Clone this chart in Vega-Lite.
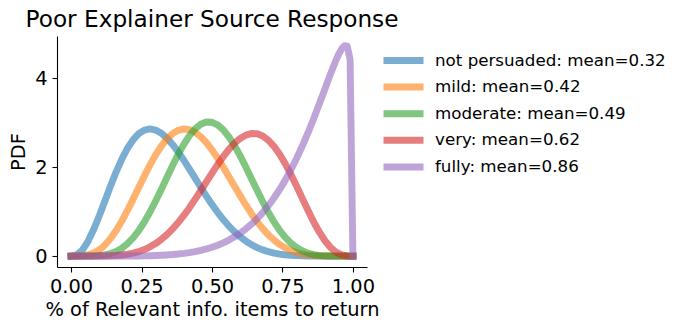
{
"$schema": "https://vega.github.io/schema/vega-lite/v6.json",
"width": 310, "height": 231,
"autosize": {"type": "none"},
"padding": {"left": 57, "top": 36, "right": 307, "bottom": 63},
"background": "white",
"config": {"view": {"stroke": null}, "font": "DejaVu Sans"},
"title": {"text": "Poor Explainer Source Response", "fontSize": 23.2, "fontWeight": "normal", "color": "black", "font": "DejaVu Sans", "anchor": "middle", "offset": 4},
"data": {"values": [
{"s":"not persuaded: mean=0.32","x":0,"y":0},{"s":"not persuaded: mean=0.32","x":0.02,"y":0.027},{"s":"not persuaded: mean=0.32","x":0.04,"y":0.137},{"s":"not persuaded: mean=0.32","x":0.06,"y":0.332},{"s":"not persuaded: mean=0.32","x":0.08,"y":0.596},{"s":"not persuaded: mean=0.32","x":0.1,"y":0.907},{"s":"not persuaded: mean=0.32","x":0.12,"y":1.241},{"s":"not persuaded: mean=0.32","x":0.14,"y":1.577},{"s":"not persuaded: mean=0.32","x":0.16,"y":1.896},{"s":"not persuaded: mean=0.32","x":0.18,"y":2.182},{"s":"not persuaded: mean=0.32","x":0.2,"y":2.425},{"s":"not persuaded: mean=0.32","x":0.22,"y":2.616},{"s":"not persuaded: mean=0.32","x":0.24,"y":2.753},{"s":"not persuaded: mean=0.32","x":0.26,"y":2.834},{"s":"not persuaded: mean=0.32","x":0.28,"y":2.86},{"s":"not persuaded: mean=0.32","x":0.3,"y":2.835},{"s":"not persuaded: mean=0.32","x":0.32,"y":2.765},{"s":"not persuaded: mean=0.32","x":0.34,"y":2.654},{"s":"not persuaded: mean=0.32","x":0.36,"y":2.511},{"s":"not persuaded: mean=0.32","x":0.38,"y":2.343},{"s":"not persuaded: mean=0.32","x":0.4,"y":2.156},{"s":"not persuaded: mean=0.32","x":0.42,"y":1.957},{"s":"not persuaded: mean=0.32","x":0.44,"y":1.753},{"s":"not persuaded: mean=0.32","x":0.46,"y":1.549},{"s":"not persuaded: mean=0.32","x":0.48,"y":1.35},{"s":"not persuaded: mean=0.32","x":0.5,"y":1.161},{"s":"not persuaded: mean=0.32","x":0.52,"y":0.984},{"s":"not persuaded: mean=0.32","x":0.54,"y":0.821},{"s":"not persuaded: mean=0.32","x":0.56,"y":0.675},{"s":"not persuaded: mean=0.32","x":0.58,"y":0.545},{"s":"not persuaded: mean=0.32","x":0.6,"y":0.433},{"s":"not persuaded: mean=0.32","x":0.62,"y":0.337},{"s":"not persuaded: mean=0.32","x":0.64,"y":0.257},{"s":"not persuaded: mean=0.32","x":0.66,"y":0.192},{"s":"not persuaded: mean=0.32","x":0.68,"y":0.14},{"s":"not persuaded: mean=0.32","x":0.7,"y":0.099},{"s":"not persuaded: mean=0.32","x":0.72,"y":0.068},{"s":"not persuaded: mean=0.32","x":0.74,"y":0.045},{"s":"not persuaded: mean=0.32","x":0.76,"y":0.029},{"s":"not persuaded: mean=0.32","x":0.78,"y":0.017},{"s":"not persuaded: mean=0.32","x":0.8,"y":0.01},{"s":"not persuaded: mean=0.32","x":0.82,"y":0.005},{"s":"not persuaded: mean=0.32","x":0.84,"y":0.003},{"s":"not persuaded: mean=0.32","x":0.86,"y":0.001},{"s":"not persuaded: mean=0.32","x":0.88,"y":0.0005},{"s":"not persuaded: mean=0.32","x":0.9,"y":0.0002},{"s":"not persuaded: mean=0.32","x":0.92,"y":0},{"s":"not persuaded: mean=0.32","x":0.94,"y":0},{"s":"not persuaded: mean=0.32","x":0.96,"y":0},{"s":"not persuaded: mean=0.32","x":0.98,"y":0},{"s":"not persuaded: mean=0.32","x":1,"y":0},
{"s":"mild: mean=0.42","x":0,"y":0},{"s":"mild: mean=0.42","x":0.02,"y":0.0005},{"s":"mild: mean=0.42","x":0.04,"y":0.006},{"s":"mild: mean=0.42","x":0.06,"y":0.025},{"s":"mild: mean=0.42","x":0.08,"y":0.068},{"s":"mild: mean=0.42","x":0.1,"y":0.141},{"s":"mild: mean=0.42","x":0.12,"y":0.249},{"s":"mild: mean=0.42","x":0.14,"y":0.395},{"s":"mild: mean=0.42","x":0.16,"y":0.576},{"s":"mild: mean=0.42","x":0.18,"y":0.789},{"s":"mild: mean=0.42","x":0.2,"y":1.027},{"s":"mild: mean=0.42","x":0.22,"y":1.282},{"s":"mild: mean=0.42","x":0.24,"y":1.544},{"s":"mild: mean=0.42","x":0.26,"y":1.804},{"s":"mild: mean=0.42","x":0.28,"y":2.051},{"s":"mild: mean=0.42","x":0.3,"y":2.277},{"s":"mild: mean=0.42","x":0.32,"y":2.474},{"s":"mild: mean=0.42","x":0.34,"y":2.634},{"s":"mild: mean=0.42","x":0.36,"y":2.754},{"s":"mild: mean=0.42","x":0.38,"y":2.829},{"s":"mild: mean=0.42","x":0.4,"y":2.859},{"s":"mild: mean=0.42","x":0.42,"y":2.844},{"s":"mild: mean=0.42","x":0.44,"y":2.786},{"s":"mild: mean=0.42","x":0.46,"y":2.687},{"s":"mild: mean=0.42","x":0.48,"y":2.554},{"s":"mild: mean=0.42","x":0.5,"y":2.39},{"s":"mild: mean=0.42","x":0.52,"y":2.204},{"s":"mild: mean=0.42","x":0.54,"y":2.001},{"s":"mild: mean=0.42","x":0.56,"y":1.787},{"s":"mild: mean=0.42","x":0.58,"y":1.57},{"s":"mild: mean=0.42","x":0.6,"y":1.356},{"s":"mild: mean=0.42","x":0.62,"y":1.15},{"s":"mild: mean=0.42","x":0.64,"y":0.955},{"s":"mild: mean=0.42","x":0.66,"y":0.777},{"s":"mild: mean=0.42","x":0.68,"y":0.618},{"s":"mild: mean=0.42","x":0.7,"y":0.479},{"s":"mild: mean=0.42","x":0.72,"y":0.361},{"s":"mild: mean=0.42","x":0.74,"y":0.263},{"s":"mild: mean=0.42","x":0.76,"y":0.185},{"s":"mild: mean=0.42","x":0.78,"y":0.125},{"s":"mild: mean=0.42","x":0.8,"y":0.08},{"s":"mild: mean=0.42","x":0.82,"y":0.048},{"s":"mild: mean=0.42","x":0.84,"y":0.027},{"s":"mild: mean=0.42","x":0.86,"y":0.014},{"s":"mild: mean=0.42","x":0.88,"y":0.006},{"s":"mild: mean=0.42","x":0.9,"y":0.002},{"s":"mild: mean=0.42","x":0.92,"y":0.001},{"s":"mild: mean=0.42","x":0.94,"y":0.0002},{"s":"mild: mean=0.42","x":0.96,"y":0},{"s":"mild: mean=0.42","x":0.98,"y":0},{"s":"mild: mean=0.42","x":1,"y":0},
{"s":"moderate: mean=0.49","x":0,"y":0},{"s":"moderate: mean=0.49","x":0.02,"y":0},{"s":"moderate: mean=0.49","x":0.04,"y":0.0001},{"s":"moderate: mean=0.49","x":0.06,"y":0.001},{"s":"moderate: mean=0.49","x":0.08,"y":0.004},{"s":"moderate: mean=0.49","x":0.1,"y":0.011},{"s":"moderate: mean=0.49","x":0.12,"y":0.028},{"s":"moderate: mean=0.49","x":0.14,"y":0.058},{"s":"moderate: mean=0.49","x":0.16,"y":0.106},{"s":"moderate: mean=0.49","x":0.18,"y":0.178},{"s":"moderate: mean=0.49","x":0.2,"y":0.279},{"s":"moderate: mean=0.49","x":0.22,"y":0.41},{"s":"moderate: mean=0.49","x":0.24,"y":0.574},{"s":"moderate: mean=0.49","x":0.26,"y":0.769},{"s":"moderate: mean=0.49","x":0.28,"y":0.992},{"s":"moderate: mean=0.49","x":0.3,"y":1.239},{"s":"moderate: mean=0.49","x":0.32,"y":1.5},{"s":"moderate: mean=0.49","x":0.34,"y":1.769},{"s":"moderate: mean=0.49","x":0.36,"y":2.035},{"s":"moderate: mean=0.49","x":0.38,"y":2.287},{"s":"moderate: mean=0.49","x":0.4,"y":2.514},{"s":"moderate: mean=0.49","x":0.42,"y":2.709},{"s":"moderate: mean=0.49","x":0.44,"y":2.861},{"s":"moderate: mean=0.49","x":0.46,"y":2.965},{"s":"moderate: mean=0.49","x":0.48,"y":3.015},{"s":"moderate: mean=0.49","x":0.5,"y":3.01},{"s":"moderate: mean=0.49","x":0.52,"y":2.951},{"s":"moderate: mean=0.49","x":0.54,"y":2.839},{"s":"moderate: mean=0.49","x":0.56,"y":2.681},{"s":"moderate: mean=0.49","x":0.58,"y":2.483},{"s":"moderate: mean=0.49","x":0.6,"y":2.254},{"s":"moderate: mean=0.49","x":0.62,"y":2.004},{"s":"moderate: mean=0.49","x":0.64,"y":1.742},{"s":"moderate: mean=0.49","x":0.66,"y":1.479},{"s":"moderate: mean=0.49","x":0.68,"y":1.224},{"s":"moderate: mean=0.49","x":0.7,"y":0.985},{"s":"moderate: mean=0.49","x":0.72,"y":0.769},{"s":"moderate: mean=0.49","x":0.74,"y":0.58},{"s":"moderate: mean=0.49","x":0.76,"y":0.421},{"s":"moderate: mean=0.49","x":0.78,"y":0.292},{"s":"moderate: mean=0.49","x":0.8,"y":0.192},{"s":"moderate: mean=0.49","x":0.82,"y":0.119},{"s":"moderate: mean=0.49","x":0.84,"y":0.068},{"s":"moderate: mean=0.49","x":0.86,"y":0.035},{"s":"moderate: mean=0.49","x":0.88,"y":0.016},{"s":"moderate: mean=0.49","x":0.9,"y":0.006},{"s":"moderate: mean=0.49","x":0.92,"y":0.002},{"s":"moderate: mean=0.49","x":0.94,"y":0.0004},{"s":"moderate: mean=0.49","x":0.96,"y":0},{"s":"moderate: mean=0.49","x":0.98,"y":0},{"s":"moderate: mean=0.49","x":1,"y":0},
{"s":"very: mean=0.62","x":0,"y":0},{"s":"very: mean=0.62","x":0.02,"y":0},{"s":"very: mean=0.62","x":0.04,"y":0},{"s":"very: mean=0.62","x":0.06,"y":0.0001},{"s":"very: mean=0.62","x":0.08,"y":0.0003},{"s":"very: mean=0.62","x":0.1,"y":0.001},{"s":"very: mean=0.62","x":0.12,"y":0.003},{"s":"very: mean=0.62","x":0.14,"y":0.007},{"s":"very: mean=0.62","x":0.16,"y":0.013},{"s":"very: mean=0.62","x":0.18,"y":0.025},{"s":"very: mean=0.62","x":0.2,"y":0.042},{"s":"very: mean=0.62","x":0.22,"y":0.067},{"s":"very: mean=0.62","x":0.24,"y":0.101},{"s":"very: mean=0.62","x":0.26,"y":0.148},{"s":"very: mean=0.62","x":0.28,"y":0.208},{"s":"very: mean=0.62","x":0.3,"y":0.281},{"s":"very: mean=0.62","x":0.32,"y":0.375},{"s":"very: mean=0.62","x":0.34,"y":0.484},{"s":"very: mean=0.62","x":0.36,"y":0.611},{"s":"very: mean=0.62","x":0.38,"y":0.755},{"s":"very: mean=0.62","x":0.4,"y":0.915},{"s":"very: mean=0.62","x":0.42,"y":1.089},{"s":"very: mean=0.62","x":0.44,"y":1.276},{"s":"very: mean=0.62","x":0.46,"y":1.47},{"s":"very: mean=0.62","x":0.48,"y":1.668},{"s":"very: mean=0.62","x":0.5,"y":1.866},{"s":"very: mean=0.62","x":0.52,"y":2.058},{"s":"very: mean=0.62","x":0.54,"y":2.237},{"s":"very: mean=0.62","x":0.56,"y":2.399},{"s":"very: mean=0.62","x":0.58,"y":2.538},{"s":"very: mean=0.62","x":0.6,"y":2.647},{"s":"very: mean=0.62","x":0.62,"y":2.721},{"s":"very: mean=0.62","x":0.64,"y":2.757},{"s":"very: mean=0.62","x":0.66,"y":2.751},{"s":"very: mean=0.62","x":0.68,"y":2.701},{"s":"very: mean=0.62","x":0.7,"y":2.606},{"s":"very: mean=0.62","x":0.72,"y":2.468},{"s":"very: mean=0.62","x":0.74,"y":2.29},{"s":"very: mean=0.62","x":0.76,"y":2.077},{"s":"very: mean=0.62","x":0.78,"y":1.836},{"s":"very: mean=0.62","x":0.8,"y":1.574},{"s":"very: mean=0.62","x":0.82,"y":1.304},{"s":"very: mean=0.62","x":0.84,"y":1.035},{"s":"very: mean=0.62","x":0.86,"y":0.779},{"s":"very: mean=0.62","x":0.88,"y":0.548},{"s":"very: mean=0.62","x":0.9,"y":0.352},{"s":"very: mean=0.62","x":0.92,"y":0.198},{"s":"very: mean=0.62","x":0.94,"y":0.091},{"s":"very: mean=0.62","x":0.96,"y":0.029},{"s":"very: mean=0.62","x":0.98,"y":0.004},{"s":"very: mean=0.62","x":1,"y":0},
{"s":"fully: mean=0.86","x":0,"y":0},{"s":"fully: mean=0.86","x":0.02,"y":0},{"s":"fully: mean=0.86","x":0.04,"y":0},{"s":"fully: mean=0.86","x":0.06,"y":0},{"s":"fully: mean=0.86","x":0.08,"y":0},{"s":"fully: mean=0.86","x":0.1,"y":0},{"s":"fully: mean=0.86","x":0.12,"y":0.0001},{"s":"fully: mean=0.86","x":0.14,"y":0.0002},{"s":"fully: mean=0.86","x":0.16,"y":0.0005},{"s":"fully: mean=0.86","x":0.18,"y":0.001},{"s":"fully: mean=0.86","x":0.2,"y":0.002},{"s":"fully: mean=0.86","x":0.22,"y":0.003},{"s":"fully: mean=0.86","x":0.24,"y":0.004},{"s":"fully: mean=0.86","x":0.26,"y":0.006},{"s":"fully: mean=0.86","x":0.28,"y":0.009},{"s":"fully: mean=0.86","x":0.3,"y":0.013},{"s":"fully: mean=0.86","x":0.32,"y":0.019},{"s":"fully: mean=0.86","x":0.34,"y":0.026},{"s":"fully: mean=0.86","x":0.36,"y":0.035},{"s":"fully: mean=0.86","x":0.38,"y":0.047},{"s":"fully: mean=0.86","x":0.4,"y":0.062},{"s":"fully: mean=0.86","x":0.42,"y":0.08},{"s":"fully: mean=0.86","x":0.44,"y":0.102},{"s":"fully: mean=0.86","x":0.46,"y":0.129},{"s":"fully: mean=0.86","x":0.48,"y":0.161},{"s":"fully: mean=0.86","x":0.5,"y":0.2},{"s":"fully: mean=0.86","x":0.52,"y":0.245},{"s":"fully: mean=0.86","x":0.54,"y":0.299},{"s":"fully: mean=0.86","x":0.56,"y":0.361},{"s":"fully: mean=0.86","x":0.58,"y":0.433},{"s":"fully: mean=0.86","x":0.6,"y":0.516},{"s":"fully: mean=0.86","x":0.62,"y":0.611},{"s":"fully: mean=0.86","x":0.64,"y":0.719},{"s":"fully: mean=0.86","x":0.66,"y":0.841},{"s":"fully: mean=0.86","x":0.68,"y":0.979},{"s":"fully: mean=0.86","x":0.7,"y":1.134},{"s":"fully: mean=0.86","x":0.72,"y":1.307},{"s":"fully: mean=0.86","x":0.74,"y":1.498},{"s":"fully: mean=0.86","x":0.76,"y":1.709},{"s":"fully: mean=0.86","x":0.78,"y":1.942},{"s":"fully: mean=0.86","x":0.8,"y":2.195},{"s":"fully: mean=0.86","x":0.82,"y":2.469},{"s":"fully: mean=0.86","x":0.84,"y":2.764},{"s":"fully: mean=0.86","x":0.86,"y":3.079},{"s":"fully: mean=0.86","x":0.88,"y":3.409},{"s":"fully: mean=0.86","x":0.9,"y":3.748},{"s":"fully: mean=0.86","x":0.92,"y":4.088},{"s":"fully: mean=0.86","x":0.94,"y":4.406},{"s":"fully: mean=0.86","x":0.95,"y":4.546},{"s":"fully: mean=0.86","x":0.96,"y":4.66},{"s":"fully: mean=0.86","x":0.97,"y":4.731},{"s":"fully: mean=0.86","x":0.98,"y":4.721},{"s":"fully: mean=0.86","x":0.99,"y":4.42},{"s":"fully: mean=0.86","x":1,"y":0}
]},
"mark": {"type": "line", "strokeWidth": 6.9, "opacity": 0.6, "strokeCap": "square", "strokeJoin": "round", "clip": false},
"encoding": {
"x": {"field": "x", "type": "quantitative", "scale": {"domain": [-0.05, 1.05], "nice": false, "zero": false},
 "axis": {"title": "% of Relevant info. items to return", "values": [0, 0.25, 0.5, 0.75, 1], "format": ".2f", "grid": false, "domainColor": "black", "domainWidth": 1.1, "tickColor": "black", "tickWidth": 1.1, "tickSize": 5, "labelFontSize": 19.4, "labelColor": "black", "labelPadding": 5, "labelFont": "DejaVu Sans", "labelFlush": false, "labelOverlap": false, "titleFontSize": 19.4, "titleFontWeight": "normal", "titleColor": "black", "titleFont": "DejaVu Sans", "titlePadding": 5}},
"y": {"field": "y", "type": "quantitative", "scale": {"domain": [-0.245, 4.95], "nice": false, "zero": false},
 "axis": {"title": "PDF", "values": [0, 2, 4], "format": "d", "grid": false, "domainColor": "black", "domainWidth": 1.1, "tickColor": "black", "tickWidth": 1.1, "tickSize": 5, "labelFontSize": 19.4, "labelColor": "black", "labelPadding": 5, "labelFont": "DejaVu Sans", "labelFlush": false, "labelOverlap": false, "titleFontSize": 19.4, "titleFontWeight": "normal", "titleColor": "black", "titleFont": "DejaVu Sans", "titlePadding": 6}},
"color": {"field": "s", "type": "nominal",
 "scale": {"domain": ["not persuaded: mean=0.32", "mild: mean=0.42", "moderate: mean=0.49", "very: mean=0.62", "fully: mean=0.86"], "range": ["#1f77b4", "#ff7f0e", "#2ca02c", "#d62728", "#9467bd"]},
 "legend": {"title": null, "orient": "none", "legendX": 323, "legendY": 14.5, "symbolType": "stroke", "symbolSize": 1600, "symbolStrokeWidth": 7, "symbolOpacity": 0.6, "clipHeight": 20, "rowPadding": 6.6, "labelFontSize": 16.7, "labelFont": "DejaVu Sans", "labelColor": "black", "labelOffset": 8, "labelLimit": 400, "padding": 0}}
}
}
